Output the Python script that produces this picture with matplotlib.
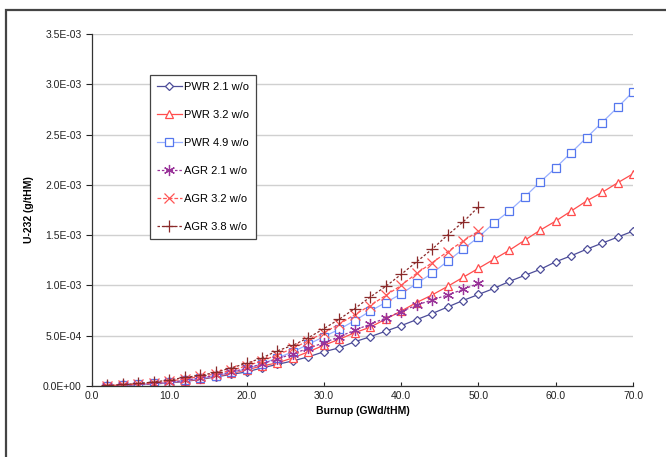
import numpy as np
import matplotlib
matplotlib.use("Agg")
import matplotlib.pyplot as plt
from matplotlib.patches import Rectangle

plt.rcParams['font.family'] = ['Liberation Sans', 'DejaVu Sans']

# ---- data (burnup in GWd/tHM, U-232 in g/tHM) ----
burnup_pwr = list(range(2, 72, 2))
burnup_agr = list(range(2, 52, 2))

pwr21 = [0.002, 0.006, 0.012, 0.020, 0.030, 0.045, 0.065, 0.090, 0.115, 0.140,
         0.180, 0.215, 0.250, 0.290, 0.340, 0.380, 0.440, 0.490, 0.545, 0.600,
         0.660, 0.720, 0.785, 0.850, 0.910, 0.970, 1.040, 1.100, 1.160, 1.235,
         1.295, 1.360, 1.420, 1.480, 1.540]
pwr32 = [0.002, 0.007, 0.014, 0.023, 0.035, 0.050, 0.070, 0.095, 0.125, 0.160,
         0.200, 0.230, 0.280, 0.340, 0.405, 0.465, 0.530, 0.585, 0.665, 0.745,
         0.830, 0.905, 0.990, 1.080, 1.170, 1.260, 1.350, 1.450, 1.550, 1.640,
         1.740, 1.840, 1.925, 2.020, 2.110]
pwr49 = [0.002, 0.007, 0.015, 0.025, 0.035, 0.055, 0.075, 0.100, 0.135, 0.170,
         0.220, 0.280, 0.340, 0.415, 0.490, 0.565, 0.650, 0.745, 0.830, 0.915,
         1.020, 1.120, 1.240, 1.360, 1.480, 1.620, 1.740, 1.880, 2.030, 2.170,
         2.320, 2.470, 2.620, 2.770, 2.925]
agr21 = [0.002, 0.007, 0.014, 0.024, 0.036, 0.055, 0.080, 0.105, 0.140, 0.175,
         0.220, 0.270, 0.320, 0.375, 0.430, 0.490, 0.555, 0.615, 0.675, 0.740,
         0.805, 0.855, 0.905, 0.960, 1.020]
agr32 = [0.003, 0.010, 0.020, 0.032, 0.048, 0.070, 0.095, 0.120, 0.155, 0.200,
         0.250, 0.310, 0.375, 0.450, 0.530, 0.615, 0.710, 0.800, 0.900, 1.000,
         1.120, 1.225, 1.335, 1.440, 1.540]
agr38 = [0.005, 0.015, 0.025, 0.040, 0.060, 0.085, 0.105, 0.135, 0.180, 0.225,
         0.280, 0.350, 0.405, 0.480, 0.570, 0.665, 0.770, 0.885, 0.990, 1.110,
         1.235, 1.360, 1.500, 1.630, 1.780]

yticks = [0.0, 0.5e-3, 1.0e-3, 1.5e-3, 2.0e-3, 2.5e-3, 3.0e-3, 3.5e-3]
ytick_labels = ["0.0E+00", "5.0E-04", "1.0E-03", "1.5E-03", "2.0E-03",
                "2.5E-03", "3.0E-03", "3.5E-03"]
xticks = [0, 10, 20, 30, 40, 50, 60, 70]

fig = plt.figure(figsize=(6.66, 4.57), dpi=100)
# chart frame (Excel style), runs off right and bottom of the image
fig.patches.append(Rectangle((6/666, -0.1), 1.2, 1.1 - 10/457, transform=fig.transFigure,
                             fill=False, edgecolor="#444444", linewidth=1.6))
ax = fig.add_axes([92/666, 1 - 386/457, 541/666, 352/457])

sc = 1e-3
series = [
    (burnup_pwr, pwr21, "PWR 2.1 w/o", "#4d4d99", "-", "D", 3.8, "none"),
    (burnup_pwr, pwr32, "PWR 3.2 w/o", "#ff4d4d", "-", "^", 5.5, "none"),
    (burnup_pwr, pwr49, "PWR 4.9 w/o", "#6688ee", "-", "s", 5.5, "none"),
    (burnup_agr, agr21, "AGR 2.1 w/o", "#993399", (0, (2, 1.5)), (6, 2, 0), 8, None),
    (burnup_agr, agr32, "AGR 3.2 w/o", "#ff5555", (0, (3, 1.5)), "x", 7, None),
    (burnup_agr, agr38, "AGR 3.8 w/o", "#8b2a2a", (0, (2, 1.5)), "+", 8, None),
]
for xs, ys, lab, col, ls, mk, ms, mfc in series:
    kw = dict(color=col, linestyle=ls, linewidth=0.9, marker=mk, markersize=ms,
              markeredgewidth=0.9, label=lab)
    if mfc is not None:
        kw["markerfacecolor"] = "white"
    if lab.startswith("PWR 4.9"):
        kw["color"] = "#99b0ff"
        kw["markeredgecolor"] = "#5577ee"
    ax.plot(xs, np.array(ys) * sc, **kw)

ax.set_xlim(0, 70)
ax.set_ylim(0, 3.5e-3)
ax.set_xticks(xticks)
ax.set_xticklabels([f"{v:.1f}" for v in xticks])
ax.set_yticks(yticks)
ax.set_yticklabels(ytick_labels)
ax.tick_params(axis="y", direction="out", length=4, labelsize=7.5, colors="#222222")
ax.tick_params(axis="x", direction="in", length=3, labelsize=7.5, colors="#222222")
ax.yaxis.grid(True, color="#d0d0d0", linewidth=1.0)
ax.set_axisbelow(True)
for s in ("top", "right"):
    ax.spines[s].set_visible(False)
for s in ("left", "bottom"):
    ax.spines[s].set_color("#333333")
    ax.spines[s].set_linewidth(0.9)

ax.set_xlabel("Burnup (GWd/tHM)", fontsize=7.5, fontweight="bold", labelpad=4)
ax.set_ylabel("U-232 (g/tHM)", fontsize=7.5, fontweight="bold", labelpad=6)

leg = ax.legend(loc="upper left", bbox_to_anchor=(58/541, 311/352), fontsize=8,
                frameon=True, fancybox=False, edgecolor="#444444", framealpha=1,
                labelspacing=1.62, handlelength=2.2, handletextpad=0.2,
                borderpad=0.65, borderaxespad=0)
leg.get_frame().set_linewidth(0.9)

fig.savefig("out.png", dpi=100)
